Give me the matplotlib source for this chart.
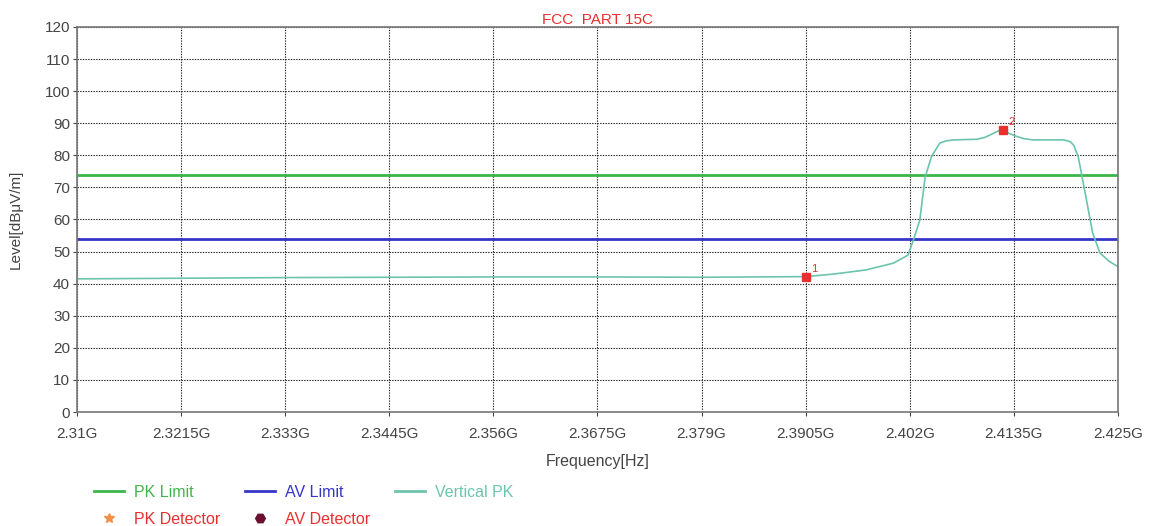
import matplotlib.pyplot as plt
from matplotlib.lines import Line2D

plt.rcParams['font.family'] = ['Liberation Sans', 'DejaVu Sans']

# sweep of the vertical peak trace (GHz, dBuV/m)
freq = [2.310, 2.322, 2.333, 2.345, 2.356, 2.3675, 2.379, 2.3905, 2.3936,
        2.3972, 2.4002, 2.4018, 2.4024, 2.4031, 2.4037, 2.4044, 2.4053,
        2.4060, 2.4068, 2.4080, 2.4094, 2.4103, 2.4109, 2.4117, 2.4123,
        2.4130, 2.4138, 2.4146, 2.4156, 2.4175, 2.4190, 2.4197, 2.4201,
        2.4206, 2.4211, 2.4222, 2.4230, 2.4240, 2.4250]
level = [41.5, 41.7, 41.9, 42.0, 42.1, 42.1, 42.0, 42.2, 43.0,
         44.3, 46.4, 48.9, 53.6, 59.8, 73.3, 79.6, 83.8,
         84.5, 84.8, 84.9, 85.0, 85.6, 86.4, 87.5, 88.0,
         86.8, 85.9, 85.2, 84.8, 84.8, 84.8, 84.3, 83.2,
         79.6, 72.3, 55.8, 49.6, 47.0, 45.3]

pk_limit = 74
av_limit = 54

# marked points
mark_freq = [2.3905, 2.4123]
mark_level = [42.2, 88.0]
mark_id = ['1', '2']

xticks = [2.31, 2.3215, 2.333, 2.3445, 2.356, 2.3675, 2.379, 2.3905, 2.402, 2.4135, 2.425]
xlabels = ['2.31G', '2.3215G', '2.333G', '2.3445G', '2.356G', '2.3675G',
           '2.379G', '2.3905G', '2.402G', '2.4135G', '2.425G']
yticks = list(range(0, 121, 10))

c_pk = '#3db54a'
c_av = '#3535c8'
c_trace = '#6cc4ad'
c_red = '#e8302f'
txt = '#444444'

fig = plt.figure(figsize=(11.52, 5.26), dpi=100)
ax = fig.add_axes([0.0668, 0.2167, 0.9037, 0.732])

ax.axhline(pk_limit, color=c_pk, lw=2)
ax.axhline(av_limit, color=c_av, lw=2)
ax.plot(freq, level, color=c_trace, lw=1.2)
ax.plot(mark_freq, mark_level, 's', color=c_red, ms=6, mec=c_red, zorder=5)
for f, v, s in zip(mark_freq, mark_level, mark_id):
    ax.annotate(s, (f, v), xytext=(4, 3), textcoords='offset points',
                color=c_red, fontsize=8)

ax.set_xlim(2.31, 2.425)
ax.set_ylim(0, 120)
ax.set_xticks(xticks)
ax.set_xticklabels(xlabels)
ax.set_yticks(yticks)
ax.grid(True, color='#222222', ls=(0, (1.2, 1.2)), lw=0.8)
ax.tick_params(labelsize=11, colors=txt, length=3)
ax.tick_params(axis='x', pad=8)
ax.tick_params(axis='y', pad=2)
for sp in ax.spines.values():
    sp.set_color('#777777')
    sp.set_linewidth(1.2)

ax.set_title('FCC  PART 15C', color=c_red, fontsize=11, pad=2)
ax.set_xlabel('Frequency[Hz]', color=txt, fontsize=11.5, labelpad=9)
ax.set_ylabel('Level[dBμV/m]', color=txt, fontsize=11)
ax.yaxis.set_label_coords(-0.052, 0.5)

handles = [
    Line2D([], [], color=c_pk, lw=2),
    Line2D([], [], ls='none', marker='*', color='#f0904a', ms=7),
    Line2D([], [], color=c_av, lw=2),
    Line2D([], [], ls='none', marker='H', color='#6b1030', ms=7),
    Line2D([], [], color=c_trace, lw=2),
]
labels = ['PK Limit', 'PK Detector', 'AV Limit', 'AV Detector', 'Vertical PK']
fig.legend(handles, labels, ncol=3, loc='lower left',
           bbox_to_anchor=(0.080, -0.004), frameon=False, fontsize=11.5,
           labelcolor=[c_pk, c_red, c_av, c_red, c_trace],
           handlelength=1.9, columnspacing=1.5, labelspacing=0.75,
           handletextpad=0.65, borderaxespad=0, borderpad=0.1)

fig.savefig('out.png', dpi=100)
